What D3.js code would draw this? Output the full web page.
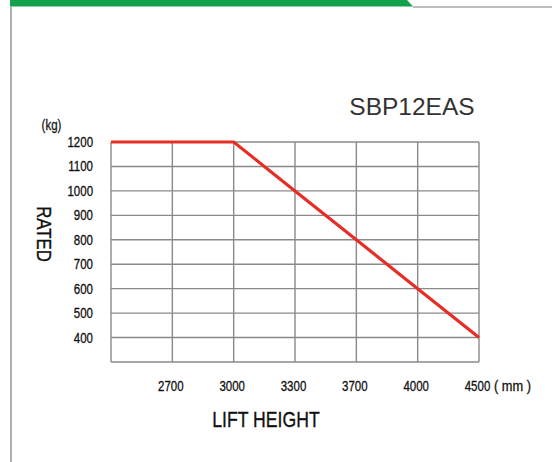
<!DOCTYPE html>
<html>
<head>
<meta charset="utf-8">
<script src="https://cdn.jsdelivr.net/npm/d3@7"></script>
<style>
  html, body { margin: 0; padding: 0; background: #fff; }
  svg { display: block; }
  text { font-family: "Liberation Sans", Arial, sans-serif; }
</style>
</head>
<body>
<svg width="552" height="462"></svg>
<script>
// chart data
const title = "SBP12EAS";
const xTicks = ["2700", "3000", "3300", "3700", "4000", "4500"];
const yTicks = [400, 500, 600, 700, 800, 900, 1000, 1100, 1200];
const curveX = ["", "3000", "3300", "3700", "4000", "4500"];
const curveY = [1200, 1200, 1000, 800, 600, 400];

const svg = d3.select("svg");
const margin = { top: 142, left: 111 };
const width = 368;
const height = 220;
const squeeze = 0.82; // no narrow font installed, so squeeze text horizontally

// frame decoration
svg.append("path")
  .attr("d", "M10,0 L407,0 L413,6.5 L10,6.5 Z")
  .attr("fill", "#14a14b");
svg.append("line")
  .attr("x1", 413).attr("x2", 552).attr("y1", 7).attr("y2", 7)
  .attr("stroke", "#a8a8a8").attr("stroke-width", 1.5);
svg.append("line")
  .attr("x1", 11).attr("x2", 11).attr("y1", 6).attr("y2", 462)
  .attr("stroke", "#b0b0b0").attr("stroke-width", 2);

const g = svg.append("g")
  .attr("transform", "translate(" + margin.left + "," + margin.top + ")");

//define scales
const xScale = d3.scalePoint()
  .domain([""].concat(xTicks))
  .range([0, width]);

const yScale = d3.scaleLinear()
  .domain([300, 1200])
  .range([height, 0]);

// grid
g.append("g")
  .selectAll("line")
  .data(yScale.ticks(9))
  .enter()
  .append("line")
  .attr("x1", 0).attr("x2", width)
  .attr("y1", d => yScale(d)).attr("y2", d => yScale(d))
  .attr("stroke", "#8a8a8a").attr("stroke-width", 1.4);

g.append("g")
  .selectAll("line")
  .data(xScale.domain())
  .enter()
  .append("line")
  .attr("x1", d => xScale(d)).attr("x2", d => xScale(d))
  .attr("y1", 0).attr("y2", height)
  .attr("stroke", "#8a8a8a").attr("stroke-width", 1.4);

//y-axis labels
const yAxis = g.append("g")
  .call(d3.axisLeft(yScale).tickValues(yTicks).tickFormat(d3.format("d")).tickSize(0));
yAxis.select(".domain").remove();
yAxis.selectAll("text")
  .attr("font-family", null)
  .attr("font-size", "14px")
  .attr("fill", "#111")
  .attr("stroke", "#111").attr("stroke-width", 0.3)
  .attr("x", -18 / squeeze)
  .attr("transform", "scale(" + squeeze + ",1)");

//x-axis labels
const xAxis = g.append("g")
  .attr("transform", "translate(0," + height + ")")
  .call(d3.axisBottom(xScale).tickValues(xTicks).tickSize(0).tickPadding(19));
xAxis.select(".domain").remove();
xAxis.selectAll("text")
  .attr("font-family", null)
  .attr("font-size", "14px")
  .attr("fill", "#111")
  .attr("stroke", "#111").attr("stroke-width", 0.3)
  .attr("transform", "translate(-2,0) scale(" + squeeze + ",1)");

// load curve
const line = d3.line()
  .x((d, i) => xScale(curveX[i]))
  .y(d => yScale(d));

g.append("path")
  .datum(curveY)
  .attr("d", line)
  .attr("fill", "none")
  .attr("stroke", "#e62e27")
  .attr("stroke-width", 3.2)
  .attr("stroke-linejoin", "miter");

// texts
svg.append("text")
  .attr("x", 412).attr("y", 115)
  .attr("text-anchor", "middle")
  .attr("font-size", "24.5px")
  .attr("fill", "#333")
  .text(title);

function squeezed(x, y, rot) {
  return "translate(" + x + "," + y + ")" + (rot ? " rotate(" + rot + ")" : "") +
    " scale(" + squeeze + ",1)";
}

svg.append("text")
  .attr("transform", squeezed(51.5, 130))
  .attr("text-anchor", "middle")
  .attr("font-size", "14px")
  .attr("fill", "#111")
  .attr("stroke", "#111").attr("stroke-width", 0.25)
  .text("(kg)");

svg.append("text")
  .attr("transform", squeezed(37, 234, 90))
  .attr("text-anchor", "middle")
  .attr("font-size", "20.5px")
  .attr("fill", "#111")
  .attr("stroke", "#111").attr("stroke-width", 0.35)
  .text("RATED");

svg.append("text")
  .attr("x", 494).attr("y", 391)
  .attr("font-size", "14px")
  .attr("fill", "#111")
  .attr("stroke", "#111").attr("stroke-width", 0.3)
  .attr("textLength", 37)
  .attr("lengthAdjust", "spacingAndGlyphs")
  .text("( mm )");

svg.append("text")
  .attr("transform", squeezed(266, 427))
  .attr("text-anchor", "middle")
  .attr("font-size", "21.5px")
  .attr("fill", "#111")
  .attr("stroke", "#111").attr("stroke-width", 0.35)
  .text("LIFT HEIGHT");
</script>
</body>
</html>
